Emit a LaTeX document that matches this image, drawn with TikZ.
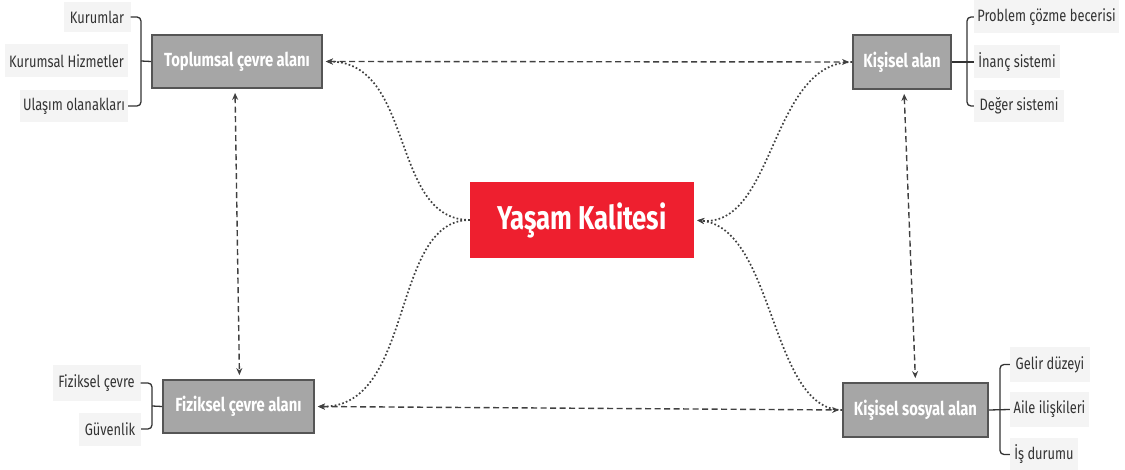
\documentclass[tikz,border=0pt]{standalone}
\usepackage{fontspec}
\setmainfont{Fira Sans}[FakeStretch=0.78]
\usetikzlibrary{arrows.meta,calc}
\definecolor{boxgray}{HTML}{A6A6A6}
\definecolor{boxline}{HTML}{555555}
\definecolor{leafbg}{HTML}{F4F4F4}
\definecolor{ykred}{HTML}{EE1F2F}
\definecolor{linec}{HTML}{404040}
\begin{document}
\begin{tikzpicture}[x=1pt,y=-1pt,
  mainbox/.style={draw=boxline,line width=1.8pt,fill=boxgray,text=white,font=\fontsize{19}{22}\selectfont\bfseries,inner sep=0pt,anchor=center},
  leaf/.style={fill=leafbg,text=black!80,font=\fontsize{16.5}{19}\selectfont,inner sep=0pt,anchor=center},
  brk/.style={draw=black!80,line width=1.3pt,rounded corners=4pt},
  dashlink/.style={draw=linec,line width=1.4pt,dash pattern=on 6pt off 3.5pt,{Stealth[length=7pt,width=6pt]}-{Stealth[length=7pt,width=6pt]}},
  dotlink/.style={draw=linec,line width=1.7pt,dash pattern=on 1.7pt off 2.2pt,-{Stealth[length=7pt,width=6pt]}},
]
\useasboundingbox (0,0) rectangle (1125,470);
% main boxes
\node[mainbox,minimum width=170pt,minimum height=53pt] (top) at (237,61.5) {Toplumsal çevre alanı};
\node[mainbox,minimum width=98pt,minimum height=54pt] (kis) at (902,62) {Kişisel alan};
\node[mainbox,minimum width=151pt,minimum height=53pt] (fiz) at (238.5,406.5) {Fiziksel çevre alanı};
\node[mainbox,minimum width=145pt,minimum height=54pt] (sos) at (915.5,410) {Kişisel sosyal alan};
\node[fill=ykred,text=white,font=\fontsize{33}{38}\selectfont\bfseries,minimum width=224pt,minimum height=76pt,inner sep=0pt] (yk) at (582,220) {Yaşam Kalitesi};
% leaves top-left
\node[leaf,minimum width=67pt,minimum height=30pt] (a1) at (97,17) {Kurumlar};
\node[leaf,minimum width=123pt,minimum height=33pt] (a2) at (66.5,61) {Kurumsal Hizmetler};
\node[leaf,minimum width=108pt,minimum height=32pt] (a3) at (74,106) {Ulaşım olanakları};
% leaves top-right
\node[leaf,minimum width=145pt,minimum height=33pt] (b1) at (1046.5,17) {Problem çözme becerisi};
\node[leaf,minimum width=86pt,minimum height=33pt] (b2) at (1017,62) {İnanç sistemi};
\node[leaf,minimum width=90pt,minimum height=32pt] (b3) at (1019,106) {Değer sistemi};
% leaves bottom-left
\node[leaf,minimum width=88pt,minimum height=35pt] (c1) at (96.5,383) {Fiziksel çevre};
\node[leaf,minimum width=62pt,minimum height=33pt] (c2) at (110,429) {Güvenlik};
% leaves bottom-right
\node[leaf,minimum width=80pt,minimum height=35pt] (d1) at (1050,364.5) {Gelir düzeyi};
\node[leaf,minimum width=79pt,minimum height=35pt] (d2) at (1049.5,409.5) {Aile ilişkileri};
\node[leaf,minimum width=68pt,minimum height=33pt] (d3) at (1044,454.5) {İş durumu};
% bracket coordinates
\coordinate (ba) at (141,61);
\coordinate (bb) at (967,62);
\coordinate (bc) at (152,406);
\coordinate (bd) at (1000,410);
% brackets
\draw[brk] (a1.east) -| (ba) |- (a3.east);
\draw[brk] (ba) -- (top.west);
\draw[brk] (b1.west) -| (bb) |- (b3.west);
\draw[brk] (kis.east) -- (b2.west);
\draw[brk] (c1.east) -| (bc) |- (c2.east);
\draw[brk] (bc) -- (fiz.west);
\draw[brk] (d1.west) -| (bd) |- (d3.west);
\draw[brk] (sos.east) -- (d2.west);
% dashed connectors
\draw[dashlink,shorten <=3pt,shorten >=3pt] (top.east) -- (kis.west);
\draw[dashlink,shorten <=3pt,shorten >=3pt] (fiz.east) -- (sos.west);
\draw[dashlink,shorten <=4pt,shorten >=4pt] ($(top.south)+(-2,0)$) -- ($(fiz.north)+(1,0)$);
\draw[dashlink,shorten <=4pt,shorten >=4pt] ($(kis.south)+(2,0)$) -- ($(sos.north)+(0,0)$);
% dotted curves
\draw[dotlink,shorten >=3pt] (yk.west) .. controls (390,220) and (415,62) .. (top.east);
\draw[dotlink,shorten >=3pt] (yk.west) .. controls (390,220) and (415,408) .. (fiz.east);
\draw[dotlink,shorten >=3pt] (kis.west) .. controls (770,62) and (775,228) .. (yk.east);
\draw[dotlink,shorten >=3pt] (sos.west) .. controls (770,410) and (775,228) .. (yk.east);
\end{tikzpicture}
\end{document}
